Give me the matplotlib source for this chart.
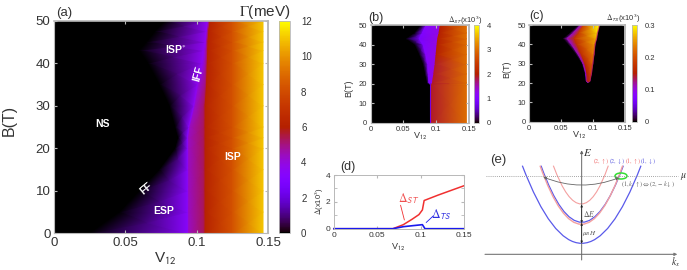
import numpy as np
import matplotlib
matplotlib.use("Agg")
import matplotlib.pyplot as plt
from matplotlib.patches import Ellipse, FancyArrowPatch, PathPatch
from matplotlib.path import Path

plt.rcParams["font.family"] = ["Liberation Sans", "DejaVu Sans"]
plt.rcParams["mathtext.fontset"] = "stix"

W, H = 687, 270
GREY = "#b8b8b8"
TXT = "#333333"

# panel (a): gap map, one row per field, value anchors read along each row
a_field = [0, 5, 10, 15, 20, 22.5, 25, 30, 35, 40, 43, 45, 47.5, 50]
a_onset = [.025, .046, .060, .074, .085, .087, .085, .081, .074, .066, .060, .065, .071, .078]
a_edge1 = [.094, .094, .094, .094, .094, .094, .095, .0985, .101, .104, .105, .106, .107, .1075]
a_edge2 = [.105, .105, .105, .105, .105, .105, .105, .105, .106, .1065, .1068, .107, .1075, .1085]
a_g_edge1_lo = [3.4, 3.4, 3.4, 3.4, 3.4, 3.4, 3.5, 3.6, 3.7, 3.7, 3.7, 3.7, 3.7, 3.7]
a_g_edge1_hi = [4.4, 4.4, 4.4, 4.4, 4.4, 4.4, 4.4, 4.3, 4.1, 3.9, 3.9, 3.9, 3.9, 3.9]
a_g_edge2_lo = [5.3, 5.3, 5.3, 5.3, 5.3, 5.3, 5.3, 5.2, 5.0, 4.8, 4.8, 4.8, 4.8, 4.8]
a_g_edge2_hi = [6.2] * 14
a_v_isp = [.125, .1465]
a_g_isp = [8.2, 11.0]

# panel (b): singlet gap
b_field = [0, 19.5, 20.5, 25, 30, 35, 40, 43, 46, 50]
b_onset = [.0905, .0905, .086, .083, .080, .074, .067, .054, .067, .0765]
b_fill = [.0912, .0912, .089, .088, .087, .084, .080, .074, .079, .085]
b_edge = [.0925, .0925, .094, .096, .098, .0995, .101, .102, .104, .106]
b_fill_g = [.5, .5, 1.0, 1.1, 1.1, 1.1, 1.0, .9, 1.0, 1.1]
b_lo = [1.0, 1.0, 1.2, 1.3, 1.3, 1.3, 1.3, 1.3, 1.3, 1.3]
b_hi = [1.9, 1.9, 1.9, 1.9, 1.9, 2.0, 2.0, 2.0, 2.0, 2.0]
b_v_end = [.146]
b_g_end = [3.0]

# panel (c): triplet gap
c_field = [20.5, 21, 25, 30, 35, 40, 43, 46, 50]
c_lo = [.091, .089, .087, .0825, .073, .061, .053, .064, .077]
c_violet = [.0915, .0895, .0885, .0845, .0765, .0665, .0595, .0695, .0805]
c_orange = [.092, .0905, .0905, .0875, .0815, .0745, .0705, .0775, .0855]
c_hi = [.093, .095, .0975, .0995, .1015, .103, .1055, .107, .110]
c_violet_g = [.08, .09, .10, .11, .11, .11, .11, .11, .11]
c_orange_g = [.10, .14, .15, .16, .17, .17, .17, .18, .19]
c_edge = [.10, .16, .19, .21, .23, .25, .26, .28, .30]

# panel (d): line cuts
d_v = [0, .068, .08, .09, .098, .102, .104, .12, .15]
d_st = [0, 0, .3, .7, 1.05, 1.4, 2.1, 2.5, 3.2]
d_ts_v = [0, .068, .08, .09, .102, .105, .15]
d_ts = [0, 0, .15, .22, .3, 0, 0]

# panel (e): band parabolas as (left x, right x, vertex y, colour, width), in crop pixels
band_left = [157, 213, 210, 250]
band_right = [513, 460, 458, 415]
band_vertex = [325, 262, 268, 207]
band_color = ["#5a5aea", "#5a5aea", "#f4a0a0", "#f4a0a0"]
band_width = [.9, .9, 1.0, .8]
band_top = 92
band_mid = 335


def box(l, t, r, b):
    return [l / W, 1 - b / H, (r - l) / W, (b - t) / H]


def label(x, y, s, **kw):
    kw.setdefault("ha", "center")
    kw.setdefault("va", "center")
    kw.setdefault("color", TXT)
    fig.text(x / W, 1 - y / H, s, **kw)


def style_map(ax, size):
    ax.set_xlim(0, .15)
    ax.set_ylim(0, 50)
    ax.set_xticks([0, .05, .1, .15], ["0", "0.05", "0.1", "0.15"])
    ax.set_yticks(range(0, 51, 10))
    ax.tick_params(direction="in", top=True, right=True, color=GREY, labelsize=size,
                   labelcolor=TXT, length=2.5, pad=2.5)
    for s in ax.spines.values():
        s.set_color(GREY)
    ax.spines["right"].set_linewidth(1.4)
    ax.spines["top"].set_linewidth(1.2)


def add_bar(mesh, rect, ticks, labels, size, pad):
    cax = fig.add_axes(box(*rect))
    cb = fig.colorbar(mesh, cax=cax)
    cb.set_ticks(ticks, labels=labels)
    cb.ax.tick_params(length=0, labelsize=size, labelcolor=TXT, pad=pad)
    cb.outline.set_edgecolor(GREY)
    cb.outline.set_linewidth(.6)


fig = plt.figure(figsize=(W / 100, H / 100), dpi=100)

# (a)
ax = fig.add_axes(box(54, 20.7, 268, 233.3))
n = len(a_field)
x_a = np.column_stack([
    np.zeros(n), a_onset, np.array(a_edge1) - .0005, np.array(a_edge1) + .0005,
    a_edge2, np.array(a_edge2) + .001, np.full(n, a_v_isp[0]), np.full(n, a_v_isp[1]),
])
y_a = np.tile(np.array(a_field, dtype=float)[:, None], (1, x_a.shape[1]))
c_a = np.column_stack([
    np.zeros(n), np.zeros(n), a_g_edge1_lo, a_g_edge1_hi, a_g_edge2_lo, a_g_edge2_hi,
    np.full(n, a_g_isp[0]), np.full(n, a_g_isp[1]),
])
mesh_a = ax.pcolormesh(x_a, y_a, c_a, shading="gouraud", cmap="gnuplot", vmin=0, vmax=12)
style_map(ax, 9.5)
add_bar(mesh_a, (279, 20.7, 290, 233.3), [0, 2, 4, 6, 8, 10, 12],
        ["0", "2", "4", "6", "8", "10", "12"], 7, 8)
label(9, 120, "B(T)", fontsize=11.5, rotation=90)
label(165, 259, r"V$_{\mathsf{12}}$", fontsize=11)
label(64, 13, "(a)", fontsize=9.5)
label(265, 12, r"$\Gamma$(meV)", fontsize=11)
for x, y, s, r in [(102, 124, "NS", 0), (176, 50, "ISP$^{*}$", 0), (198, 74, "IFF", 75),
                   (233, 157, "ISP", 0), (146, 189, "FF", 40), (164, 211, "ESP", 0)]:
    label(x, y, s, color="white", fontsize=7.5, fontweight="bold", rotation=r)

# (b)
ax = fig.add_axes(box(370.7, 25, 469, 122.7))
n = len(b_field)
x_b = np.column_stack([np.zeros(n), b_onset, b_fill, np.array(b_edge) - .0004, np.array(b_edge) + .0004,
                       np.full(n, b_v_end[0])])
y_b = np.tile(np.array(b_field, dtype=float)[:, None], (1, x_b.shape[1]))
c_b = np.column_stack([np.zeros(n), np.zeros(n), b_fill_g, b_lo, b_hi, np.full(n, b_g_end[0])])
mesh_b = ax.pcolormesh(x_b, y_b, c_b, shading="gouraud", cmap="gnuplot", vmin=0, vmax=4)
style_map(ax, 5.5)
add_bar(mesh_b, (473.5, 25.5, 478.5, 123), [0, 1, 2, 3, 4], ["0", "1", "2", "3", "4"], 5.5, 6)
label(349, 88, "B(T)", fontsize=6.5, rotation=90)
label(420, 136, r"V$_{\mathsf{12}}$", fontsize=6.5)
label(376, 18, "(b)", fontsize=9)
label(465, 20, r"$\Delta_{\mathsf{ST}}$(x10$^{\mathsf{3}}$)", fontsize=5.5)

# (c)
ax = fig.add_axes(box(529.3, 25, 625, 121.7))
ax.set_facecolor("black")
n = len(c_field)
x_c = np.column_stack([c_lo, c_violet, c_orange, np.array(c_hi) - .0015, c_hi])
y_c = np.tile(np.array(c_field, dtype=float)[:, None], (1, x_c.shape[1]))
c_c = np.column_stack([np.zeros(n), c_violet_g, c_orange_g, c_edge, np.full(n, .13)])
mesh_c = ax.pcolormesh(x_c, y_c, c_c, shading="gouraud", cmap="gnuplot", vmin=0, vmax=.3)
style_map(ax, 5.5)
add_bar(mesh_c, (631.7, 25, 636.7, 121.7), [0, .1, .2, .3], ["0", "0.1", "0.2", "0.3"], 5.5, 6)
label(507, 69, "B(T)", fontsize=6.5, rotation=90)
label(579, 135, r"V$_{\mathsf{12}}$", fontsize=6.5)
label(536, 16, "(c)", fontsize=9)
label(623, 18, r"$\Delta_{\mathsf{TS}}$(x10$^{\mathsf{3}}$)", fontsize=5.5)

# (d)
ax = fig.add_axes(box(334, 175, 464, 228.7))
ax.plot(d_v, d_st, color="#f03030", lw=1.1, clip_on=False)
ax.plot(d_ts_v, d_ts, color="#1a1aee", lw=1.2, clip_on=False)
ax.set_xlim(0, .15)
ax.set_ylim(0, 4)
ax.set_xticks([0, .05, .1, .15], ["0", "0.05", "0.1", "0.15"])
ax.set_yticks([0, 2, 4])
ax.set_yticks([1, 3], minor=True)
ax.tick_params(which="both", direction="in", top=True, right=True, color=GREY,
               labelsize=6, labelcolor=TXT, length=2, pad=2.5)
for s in ax.spines.values():
    s.set_color(GREY)
    s.set_linewidth(.7)
ax.annotate("", xy=(.082, .45), xytext=(.076, 1.95),
            arrowprops=dict(arrowstyle="-", color="#f03030", lw=.6))
ax.annotate("", xy=(.104, .32), xytext=(.117, 1.1),
            arrowprops=dict(arrowstyle="-", color="#1a1aee", lw=.6))
label(409, 199, r"$\Delta_{\mathsf{ST}}$", fontsize=8.5, color="#f05050")
label(441, 215, r"$\Delta_{\mathsf{TS}}$", fontsize=8.5, color="#3030e0")
label(348, 167, "(d)", fontsize=9)
label(319, 201, r"$\Delta$(x10$^{\mathsf{3}}$)", fontsize=5.5, rotation=90)
label(398, 247, r"V$_{\mathsf{12}}$", fontsize=6.5)

# (e)
ax = fig.add_axes(box(470, 135, 687, 270))
ax.set_xlim(0, 651)
ax.set_ylim(405, 0)
ax.axis("off")
for left, right, yv, col, lw in zip(band_left, band_right, band_vertex, band_color, band_width):
    verts = [(left, band_top), (band_mid, 2 * yv - band_top), (right, band_top)]
    ax.add_patch(PathPatch(Path(verts, [Path.MOVETO, Path.CURVE3, Path.CURVE3]), fc="none", ec=col, lw=lw))
ax.plot([48, 625], [124, 124], color="#888888", lw=.6, ls=(0, (1, 1.5)))
ax.add_patch(FancyArrowPatch((45, 358), (622, 358), arrowstyle="-|>", mutation_scale=4, color="#777777", lw=.8, shrinkA=0, shrinkB=0))
ax.add_patch(FancyArrowPatch((335, 375), (335, 46), arrowstyle="-|>", mutation_scale=4, color="#666666", lw=.7, shrinkA=0, shrinkB=0))
ax.add_patch(Ellipse((453, 123), 36, 18, fc="none", ec="#33dd33", lw=1.1))
ax.add_patch(FancyArrowPatch((220, 126), (447, 128), connectionstyle="arc3,rad=0.2", arrowstyle="<|-|>",
                             mutation_scale=4, color="#666666", lw=.6, shrinkA=0, shrinkB=0))
for y0, y1 in [(209, 264), (264, 325)]:
    ax.add_patch(FancyArrowPatch((335, y0), (335, y1), arrowstyle="<|-|>", mutation_scale=3, color="#222222", lw=.5, shrinkA=0, shrinkB=0))
label(498, 160, "(e)", fontsize=9.5)
label(588, 152, "$E$", fontsize=8)
label(684, 176, r"$\mu$", fontsize=7)
label(676, 262, "$k_x$", fontsize=7)
label(589, 214, "$\\Delta E$", fontsize=5.5, color="#555555")
label(589, 233, "$\\mu_B H$", fontsize=5, color="#555555")
for x, s, col in [(601, r"$(2,\uparrow)$", "#f07070"), (617, r"$(2,\downarrow)$", "#6060e0"),
                  (633, r"$(1,\uparrow)$", "#f07070"), (648, r"$(1,\downarrow)$", "#6060e0")]:
    label(x, 161, s, fontsize=4.3, color=col)
label(648, 184, r"$(1,k,\uparrow)\Leftrightarrow(2,-k\downarrow)$", fontsize=4.6, color="#666666")

fig.savefig("out.png", dpi=100)
